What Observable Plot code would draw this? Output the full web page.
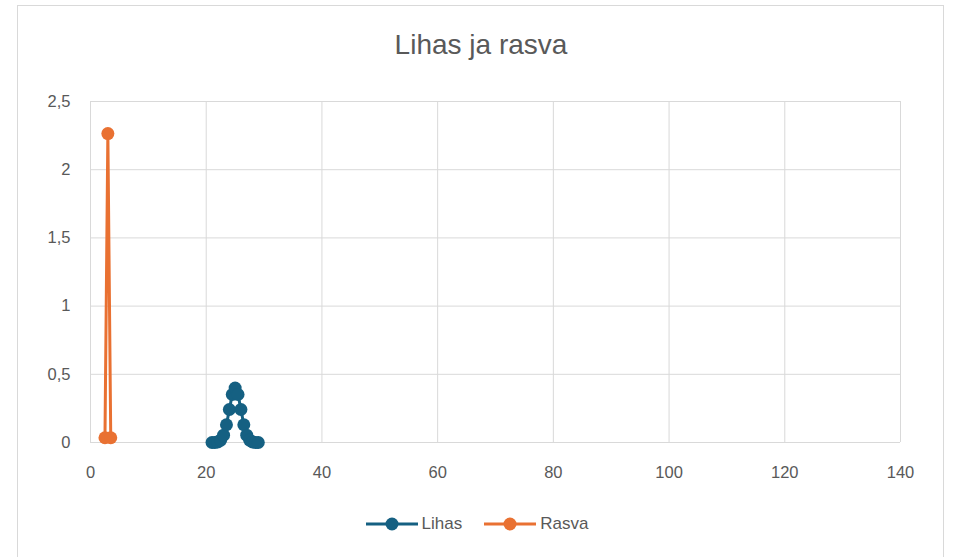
<!DOCTYPE html>
<html>
<head>
<meta charset="utf-8">
<script src="https://cdn.jsdelivr.net/npm/d3@7"></script>
<script src="https://cdn.jsdelivr.net/npm/@observablehq/plot@0.6"></script>
<style>
  html, body { margin: 0; padding: 0; background: #fff; }
  #wrap { position: relative; width: 954px; height: 557px; overflow: hidden; font-family: "Liberation Sans", Arial, sans-serif; }
  #frame { position: absolute; left: 17px; top: 5px; width: 927px; height: 600px; border: 1px solid #d9d9d9; box-sizing: border-box; }
  #title { position: absolute; left: 17px; width: 928px; top: 29px; text-align: center; font-size: 28px; color: #595959; }
  #chart { position: absolute; left: 0; top: 80px; }
  #legend { position: absolute; left: 0; width: 954px; top: 514px; display: flex; justify-content: center; gap: 22px; font-size: 17px; color: #595959; }
  .item { display: flex; align-items: center; gap: 4px; }
</style>
</head>
<body>
<div id="wrap">
  <div id="frame"></div>
  <div id="title">Lihas ja rasva</div>
  <div id="chart"></div>
  <div id="legend"></div>
</div>
<script>
const seriesNames = ["Lihas", "Rasva"];
const seriesColors = ["#156082", "#E97132"];

const lihasX = [21, 21.5, 22, 22.5, 23, 23.5, 24, 24.5, 25, 25.5, 26, 26.5, 27, 27.5, 28, 28.5, 29];
const lihasY = [0.0001, 0.0009, 0.0044, 0.0175, 0.054, 0.13, 0.242, 0.352, 0.399, 0.352, 0.242, 0.13, 0.054, 0.0175, 0.0044, 0.0009, 0.0001];

const rasvaX = [2.5, 3, 3.5];
const rasvaY = [0.035, 2.265, 0.035];

const xTicks = [0, 20, 40, 60, 80, 100, 120, 140];
const yTicks = [0, 0.5, 1, 1.5, 2, 2.5];

const lihas = lihasX.map((x, i) => ({x, y: lihasY[i], s: "Lihas"}));
const rasva = rasvaX.map((x, i) => ({x, y: rasvaY[i], s: "Rasva"}));

const fmt = d => String(d).replace(".", ",");

const chart = Plot.plot({
  width: 954,
  height: 420,
  marginLeft: 90,
  marginRight: 54,
  marginTop: 21,
  marginBottom: 58,
  style: {fontFamily: "'Liberation Sans', Arial, sans-serif", fontSize: "16.5px", color: "#595959", background: "transparent"},
  x: {domain: [0, 140], ticks: xTicks, tickFormat: fmt, label: null, tickSize: 0, tickPadding: 24},
  y: {domain: [0, 2.5], ticks: yTicks, tickFormat: fmt, label: null, tickSize: 0, tickPadding: 20},
  color: {domain: seriesNames, range: seriesColors},
  marks: [
    Plot.gridX(xTicks, {stroke: "#d9d9d9", strokeOpacity: 1, strokeWidth: 1}),
    Plot.gridY(yTicks, {stroke: "#d9d9d9", strokeOpacity: 1, strokeWidth: 1}),
    Plot.axisX({ticks: xTicks, tickFormat: fmt, tickSize: 0, tickPadding: 24, label: null, fill: "#595959"}),
    Plot.axisY({ticks: yTicks, tickFormat: fmt, tickSize: 0, tickPadding: 20, label: null, fill: "#595959"}),
    Plot.line(lihas, {x: "x", y: "y", stroke: seriesColors[0], strokeWidth: 3}),
    Plot.dot(lihas, {x: "x", y: "y", fill: seriesColors[0], r: 6.5}),
    Plot.line(rasva, {x: "x", y: "y", stroke: seriesColors[1], strokeWidth: 3}),
    Plot.dot(rasva, {x: "x", y: "y", fill: seriesColors[1], r: 6.5})
  ]
});
document.getElementById("chart").appendChild(chart);

const legend = document.getElementById("legend");
seriesNames.forEach((name, i) => {
  const item = document.createElement("div");
  item.className = "item";
  item.innerHTML = `<svg width="52" height="16"><line x1="0" y1="8" x2="52" y2="8" stroke="${seriesColors[i]}" stroke-width="3"/><circle cx="26" cy="8" r="6.5" fill="${seriesColors[i]}"/></svg><span>${name}</span>`;
  legend.appendChild(item);
});
</script>
</body>
</html>
